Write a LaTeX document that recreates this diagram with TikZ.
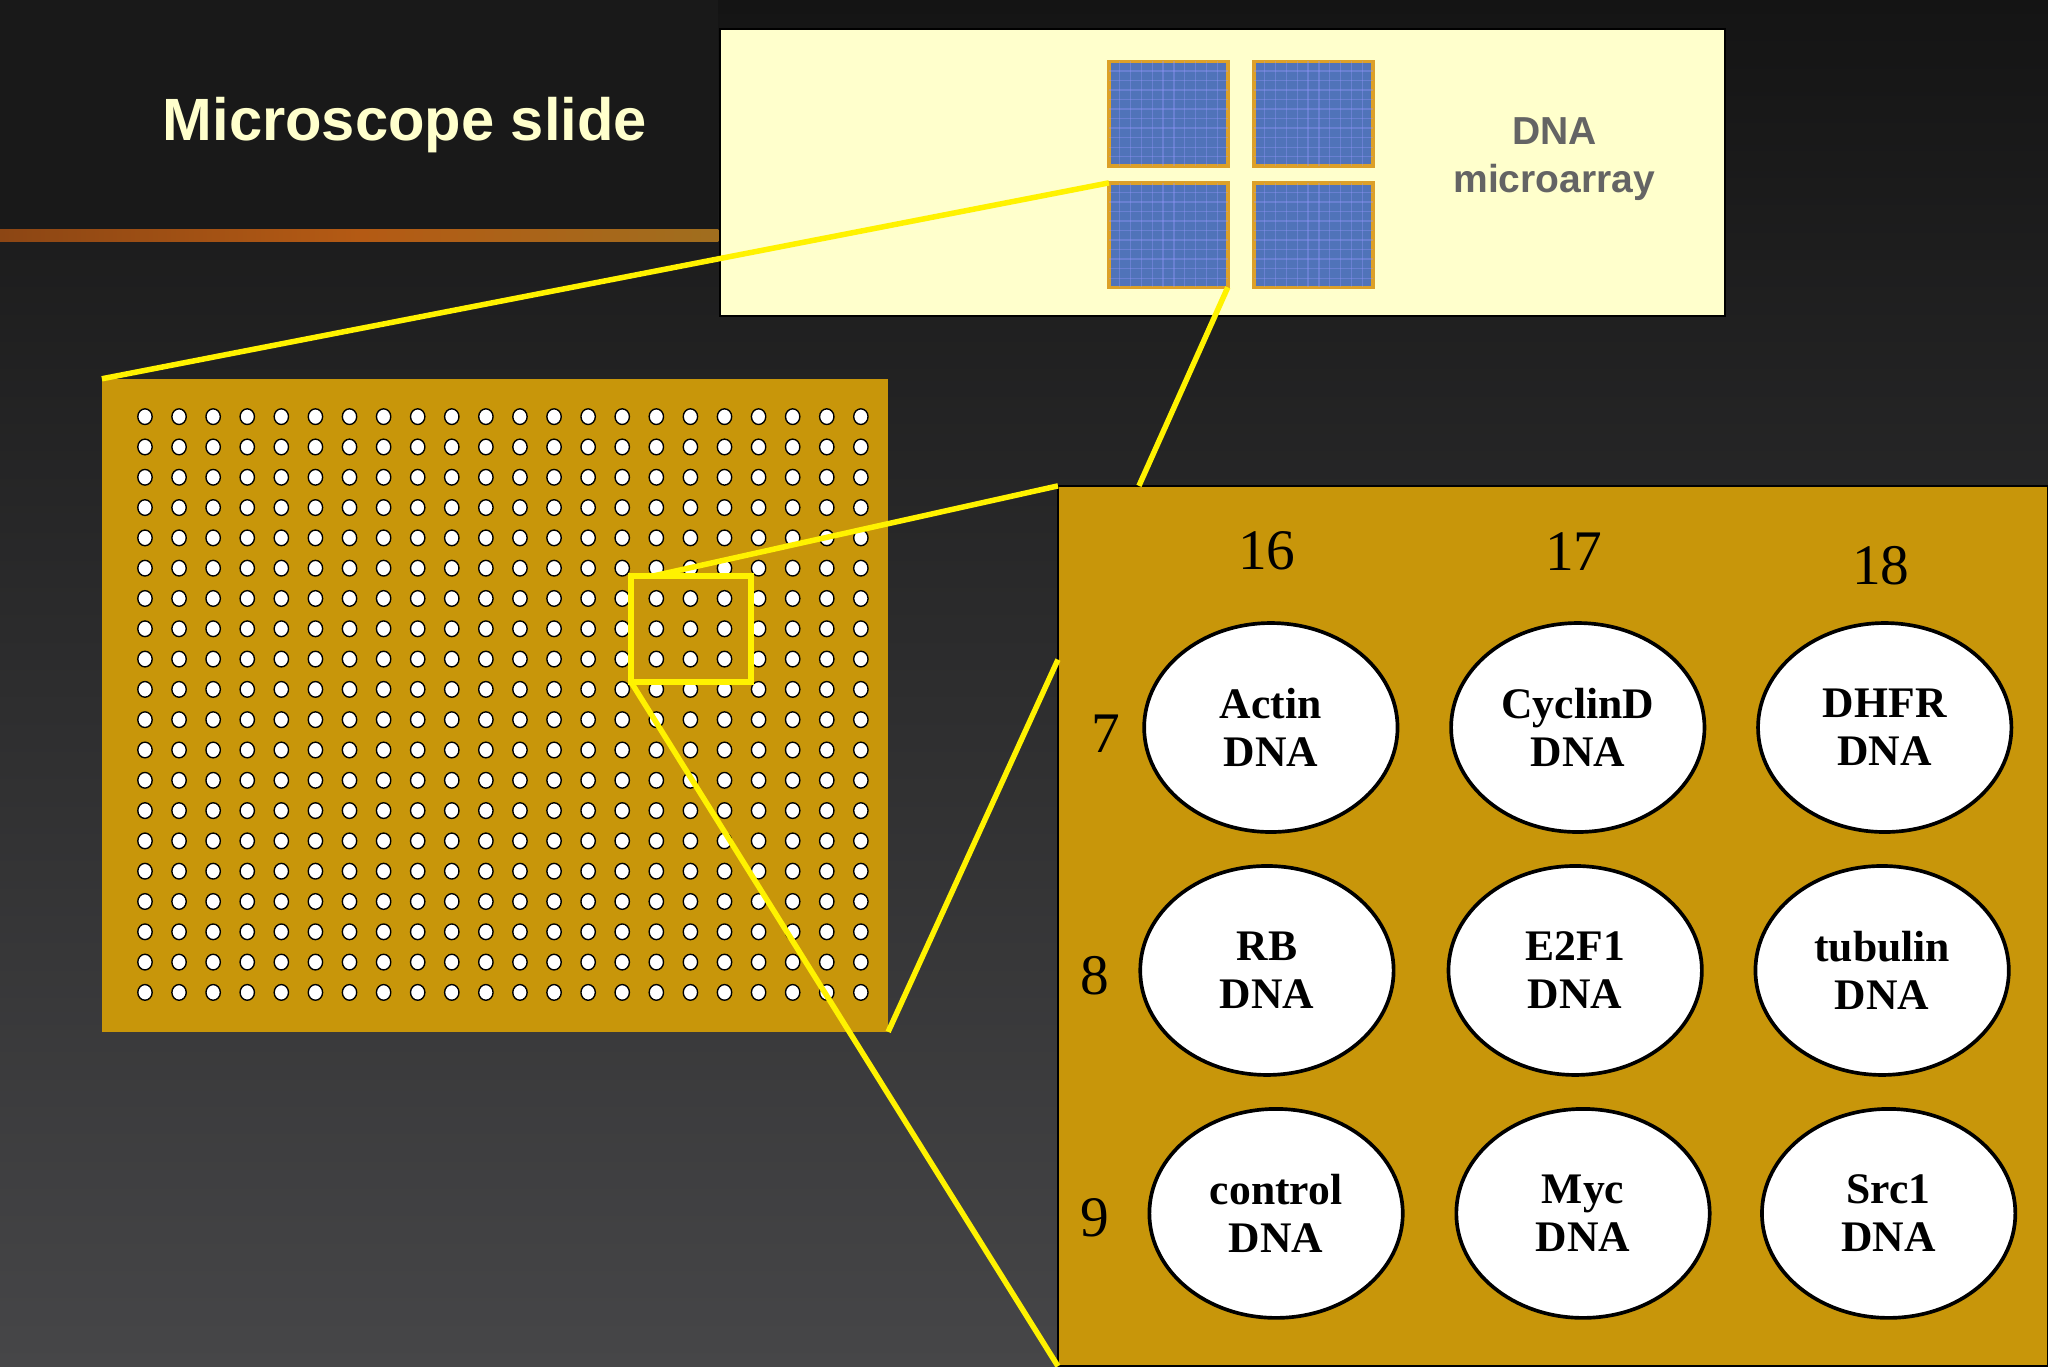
\documentclass[tikz,border=0pt]{standalone}
\usepackage{fontspec}
\setmainfont{Liberation Serif}
\newfontfamily\sansf{Liberation Sans}
\begin{document}
\begin{tikzpicture}[x=0.1mm,y=-0.1mm,
  gold/.style={fill={rgb,255:red,200;green,150;blue,10}},
  spot/.style={ellipse,draw=black,fill=white,line width=0.8pt,minimum width=194\pgflinewidth,inner sep=0pt,minimum width=19.4mm,minimum height=16mm,font=\bfseries\fontsize{9.5pt}{10.5pt}\selectfont,align=center},
  dot/.style={draw=black,fill=white,line width=0.3pt},
  chip/.style={draw={rgb,255:red,220;green,160;blue,40},line width=0.8pt,fill={rgb,255:red,80;green,115;blue,185}},
  yl/.style={draw=yellow,line width=1.2pt},
  num/.style={font=\fontsize{12.5pt}{14pt}\selectfont}]
\usetikzlibrary{shapes.geometric}
\useasboundingbox (0,0) rectangle (1568,1046);
\shade[top color={rgb,255:red,20;green,20;blue,20},bottom color={rgb,255:red,70;green,70;blue,72}] (0,0) rectangle (1568,1046);
\shade[left color={rgb,255:red,15;green,15;blue,15},right color={rgb,255:red,15;green,15;blue,15},middle color={rgb,255:red,40;green,40;blue,40}, opacity=0] (0,0) rectangle (1568,1046);
\fill[black!90] (0,0) rectangle (550,178);
\shade[left color={rgb,255:red,140;green,70;blue,20},right color={rgb,255:red,160;green,110;blue,30},middle color={rgb,255:red,180;green,90;blue,20}] (0,176) rectangle (550,185);
\node[font=\sansf\bfseries\fontsize{13pt}{15pt}\selectfont,text={rgb,255:red,255;green,255;blue,204}] (title) at (310,96) {Microscope slide};
% slide
\draw[black,fill={rgb,255:red,255;green,255;blue,204}] (551,22) rectangle (1321,242);
\draw[chip] (849,47) rectangle (940,127);
\draw[chip] (960,47) rectangle (1051,127);
\draw[chip] (849,140) rectangle (940,220);
\draw[chip] (960,140) rectangle (1051,220);
\foreach \x in {0,1} \foreach \y in {0,1}{
  \foreach \i in {1,...,10}{
    \draw[white!60!blue,opacity=0.35,line width=0.3pt] (849+111*\x+\i*8.3,47+93*\y) -- ++(0,80);
    \draw[white!60!blue,opacity=0.35,line width=0.3pt] (849+111*\x,47+93*\y+\i*7.3) -- ++(91,0);}}
\node[font=\sansf\bfseries\fontsize{8.5pt}{10.5pt}\selectfont,text={rgb,255:red,100;green,100;blue,100},align=center] (lbl) at (1190,122) {DNA\\microarray};
% array
\fill[gold] (78,290) rectangle (680,790);
\foreach \c in {0,...,21} \foreach \r in {0,...,19}
  \draw[dot] (111+\c*26.1,319+\r*23.2) ellipse (5.5 and 6);
\draw[yl] (483,441) rectangle (575,522);
% zoom panel
\draw[black,gold] (810,372) rectangle (1568,1046);
\node[num] (c16) at (970,422) {16};
\node[num] (c17) at (1205,422) {17};
\node[num] (c18) at (1440,433) {18};
\node[num] (r7) at (847,562) {7};
\node[num] (r8) at (838,747) {8};
\node[num] (r9) at (838,932) {9};
\node[spot] (a) at (973,557) {Actin\\DNA};
\node[spot] (b) at (1208,557) {CyclinD\\DNA};
\node[spot] (c) at (1443,557) {DHFR\\DNA};
\node[spot] (d) at (970,743) {RB\\DNA};
\node[spot] (e) at (1206,743) {E2F1\\DNA};
\node[spot] (f) at (1441,743) {tubulin\\DNA};
\node[spot] (g) at (977,929) {control\\DNA};
\node[spot] (h) at (1212,929) {Myc\\DNA};
\node[spot] (i) at (1446,929) {Src1\\DNA};
% connectors
\coordinate (s1) at (849,140); \coordinate (s2) at (940,220);
\coordinate (ar1) at (78,290); \coordinate (ar2) at (680,790);
\coordinate (p1) at (872,372); \coordinate (p2) at (810,372);
\coordinate (p3) at (810,505); \coordinate (p4) at (810,1046);
\coordinate (q1) at (500,441); \coordinate (q2) at (483,522);
\draw[yl] (s1) -- (ar1);
\draw[yl] (s2) -- (p1);
\draw[yl] (q1) -- (p2);
\draw[yl] (ar2) -- (p3);
\draw[yl] (q2) -- (p4);
\end{tikzpicture}
\end{document}
